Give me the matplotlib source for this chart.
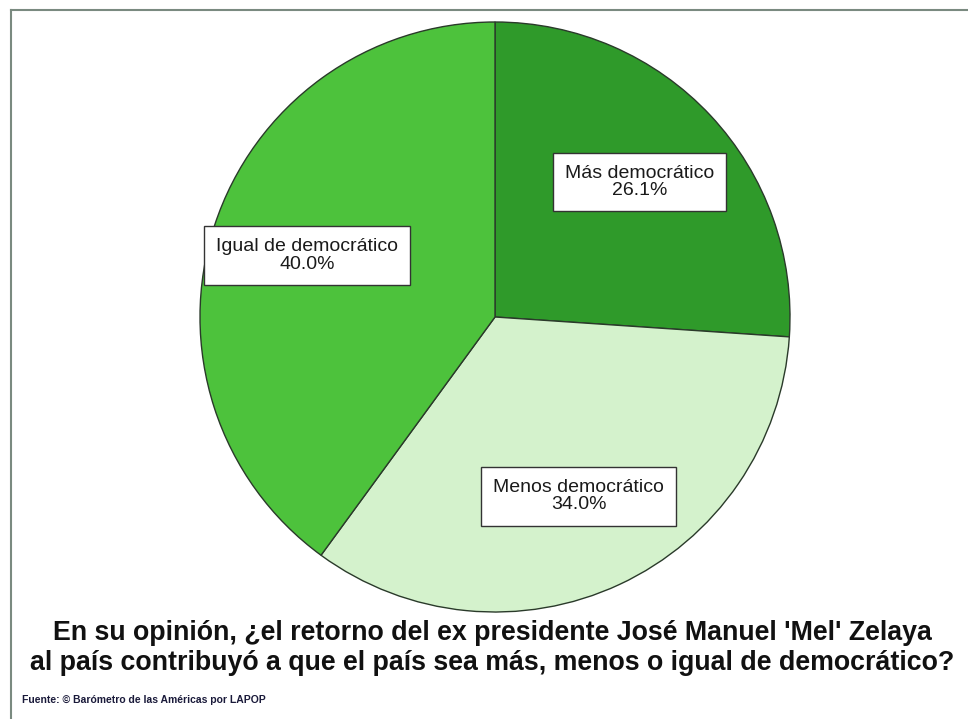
import matplotlib
matplotlib.use("Agg")
import matplotlib.pyplot as plt
from matplotlib.lines import Line2D

plt.rcParams['font.family'] = ['Liberation Sans', 'DejaVu Sans']

categories = ["Más democrático", "Menos democrático", "Igual de democrático"]
values = [26.1, 34.0, 40.0]
colors = ["#2f9a2a", "#d4f2cc", "#4dc23c"]

title = ("En su opinión, ¿el retorno del ex presidente José Manuel 'Mel' Zelaya\n"
         "al país contribuyó a que el país sea más, menos o igual de democrático?")
source = "Fuente: © Barómetro de las Américas por LAPOP"

fig = plt.figure(figsize=(9.68, 7.19), dpi=100)
fig.patch.set_facecolor("white")

# frame lines (top and left only visible in the scan)
fig.add_artist(Line2D([11 / 968, 11 / 968], [0, 1 - 10 / 719], transform=fig.transFigure,
                      color="#7a8a80", lw=1.5))
fig.add_artist(Line2D([11 / 968, 1], [1 - 10 / 719, 1 - 10 / 719], transform=fig.transFigure,
                      color="#7a8a80", lw=1.5))

ax = fig.add_axes([200 / 968, 107 / 719, 590 / 968, 590 / 719])
labels = [f"{c}\n{v:.1f}%" for c, v in zip(categories, values)]
wedges, texts = ax.pie(values, colors=colors, startangle=90, counterclock=False,
                       labels=labels, labeldistance=0.67,
                       wedgeprops=dict(edgecolor="#2a3a2a", linewidth=1.0),
                       textprops=dict(fontsize=14, ha="center", va="center",
                                      color="#1a1a1a", linespacing=1.05))
for t in texts:
    t.set_bbox(dict(boxstyle="square,pad=0.62", facecolor="white",
                    edgecolor="#333333", linewidth=1.0))
ax.set_xlim(-1, 1)
ax.set_ylim(-1, 1)
ax.set_aspect("equal")

fig.text(0.5 + 8 / 968, 1 - 648 / 719, title, ha="center", va="center", fontsize=19.3,
         fontweight="bold", color="#111111", linespacing=1.15)
fig.text(22 / 968, 1 - 700 / 719, source, ha="left", va="center", fontsize=7.5,
         fontweight="bold", color="#1a1a3a")

fig.savefig("out.png", dpi=100)
